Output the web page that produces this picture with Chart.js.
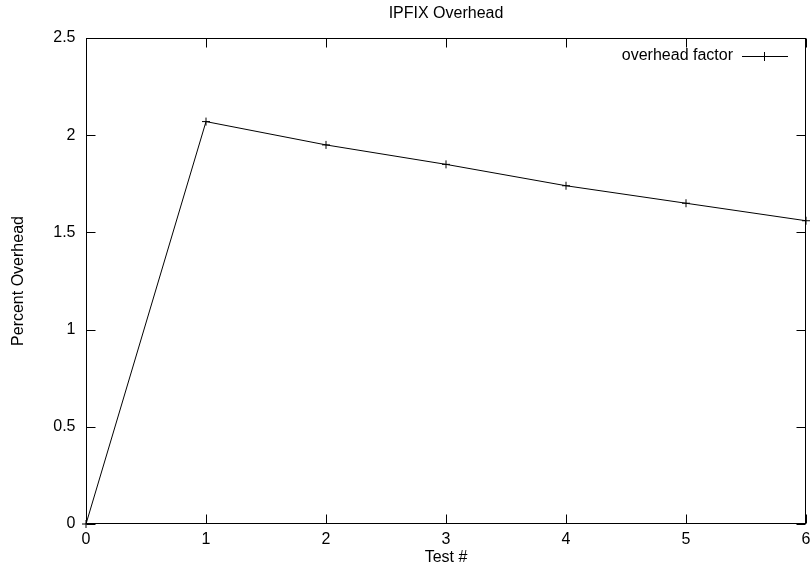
<!DOCTYPE html>
<html>
<head>
<meta charset="utf-8">
<script src="https://cdn.jsdelivr.net/npm/chart.js@4/dist/chart.umd.min.js"></script>
<style>
  html, body { margin: 0; padding: 0; background: #fff; }
  #wrap { width: 811px; height: 574px; }
</style>
</head>
<body>
<div id="wrap"><canvas id="chart" width="811" height="574"></canvas></div>
<script>
// data
var testNums = [0, 1, 2, 3, 4, 5, 6];
var overhead = [0, 2.07, 1.95, 1.85, 1.74, 1.65, 1.56];
var xTicks = [0, 1, 2, 3, 4, 5, 6];
var yTicks = [0, 0.5, 1, 1.5, 2, 2.5];

var FONT = '16px "Liberation Sans", Arial, sans-serif';

// gnuplot style frame: box, inward ticks on all sides, labels, legend
var gnuplotFrame = {
  id: 'gnuplotFrame',
  afterDraw: function(chart) {
    var ctx = chart.ctx;
    var a = chart.chartArea;
    var xs = chart.scales.x, ys = chart.scales.y;
    var L = Math.round(a.left) + 0.5, R = Math.round(a.right) - 0.5;
    var T = Math.round(a.top) + 0.5, B = Math.round(a.bottom) - 0.5;
    ctx.save();
    ctx.strokeStyle = '#000';
    ctx.lineWidth = 1;
    ctx.strokeRect(L, T, R - L, B - T);

    ctx.beginPath();
    xTicks.forEach(function(v) {
      var px = Math.round(xs.getPixelForValue(v)) + 0.5;
      ctx.moveTo(px, B); ctx.lineTo(px, B - 9);
      ctx.moveTo(px, T); ctx.lineTo(px, T + 9);
    });
    yTicks.forEach(function(v) {
      var py = Math.round(ys.getPixelForValue(v)) + 0.5;
      ctx.moveTo(L, py); ctx.lineTo(L + 9, py);
      ctx.moveTo(R, py); ctx.lineTo(R - 9, py);
    });
    ctx.stroke();

    ctx.fillStyle = '#000';
    ctx.font = FONT;
    ctx.textBaseline = 'middle';
    ctx.textAlign = 'center';
    xTicks.forEach(function(v) {
      ctx.fillText(String(v), xs.getPixelForValue(v), B + 16);
    });
    ctx.textAlign = 'right';
    yTicks.forEach(function(v) {
      ctx.fillText(String(v), L - 11, ys.getPixelForValue(v));
    });

    // axis titles
    ctx.textAlign = 'center';
    ctx.fillText('Test #', (L + R) / 2, 558);
    ctx.fillText('IPFIX Overhead', (L + R) / 2, 14);
    ctx.save();
    ctx.translate(19, (T + B) / 2);
    ctx.rotate(-Math.PI / 2);
    ctx.fillText('Percent Overhead', 0, 0);
    ctx.restore();

    // key
    var ky = 56;
    ctx.textAlign = 'right';
    ctx.fillText('overhead factor', 733, ky);
    ctx.beginPath();
    ctx.moveTo(742, ky + 0.5); ctx.lineTo(788, ky + 0.5);
    ctx.moveTo(764.5, ky - 4); ctx.lineTo(764.5, ky + 5);
    ctx.stroke();
    ctx.restore();
  }
};

new Chart(document.getElementById('chart').getContext('2d'), {
  type: 'line',
  data: {
    labels: testNums,
    datasets: [{
      label: 'overhead factor',
      data: testNums.map(function(x, i) { return { x: x, y: overhead[i] }; }),
      borderColor: '#000',
      borderWidth: 1,
      backgroundColor: '#000',
      pointStyle: 'cross',
      pointRadius: 4,
      pointBorderWidth: 1,
      pointBorderColor: '#000',
      fill: false,
      tension: 0,
      clip: false
    }]
  },
  options: {
    responsive: false,
    animation: false,
    devicePixelRatio: 1,
    layout: { padding: { left: 86, right: 2, top: 38, bottom: 50 } },
    plugins: {
      legend: { display: false },
      title: { display: false },
      tooltip: { enabled: false }
    },
    scales: {
      x: { type: 'linear', min: 0, max: 6, display: false, ticks: { stepSize: 1 } },
      y: { type: 'linear', min: 0, max: 2.5, display: false, ticks: { stepSize: 0.5 } }
    }
  },
  plugins: [gnuplotFrame]
});
</script>
</body>
</html>
